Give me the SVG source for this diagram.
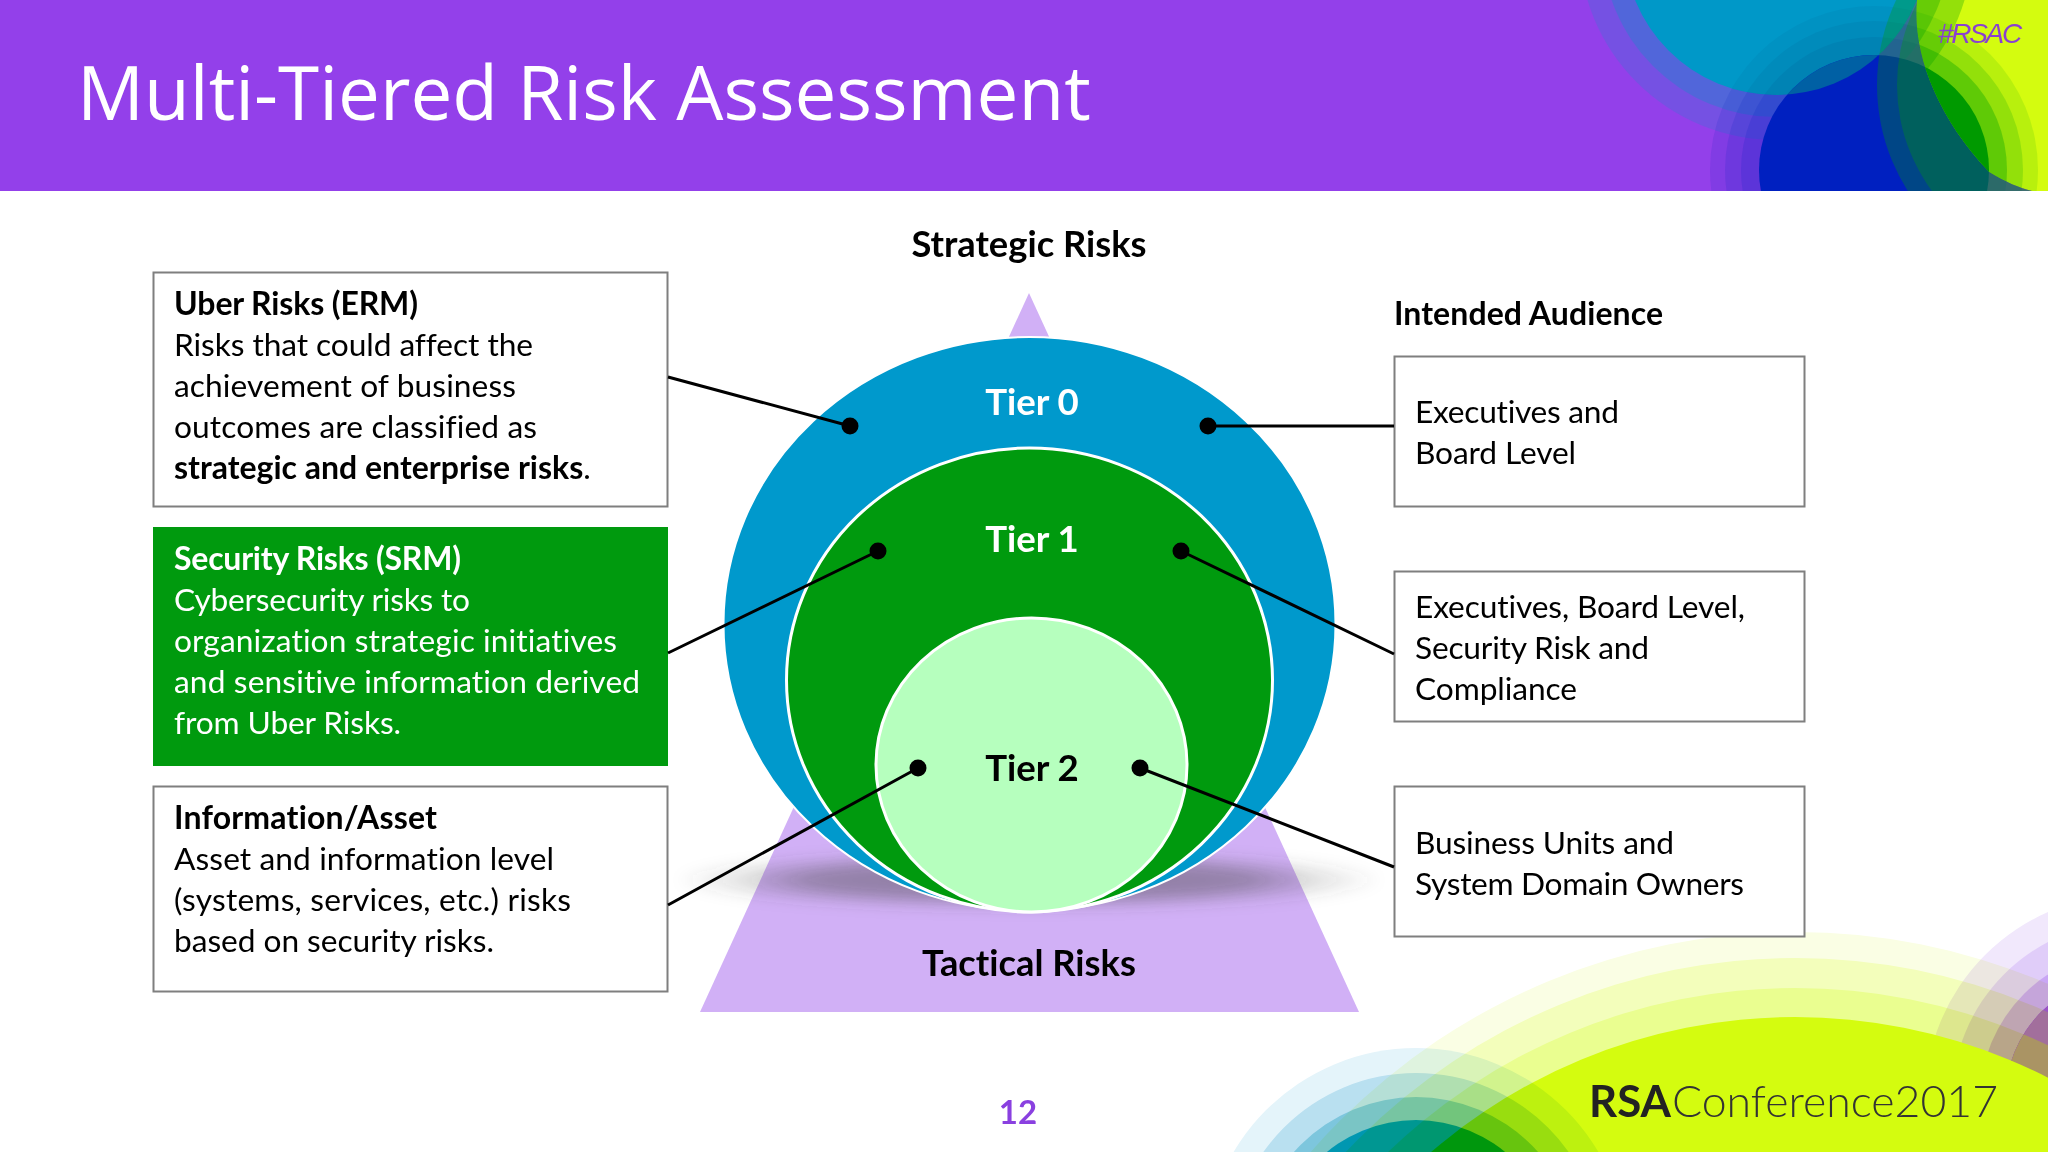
<svg xmlns="http://www.w3.org/2000/svg" width="2048" height="1152" viewBox="0 0 2048 1152">
<style>
text{font-family:"Lato","Liberation Sans",sans-serif;font-size:31.700px;fill:#000;font-variant-ligatures:none}
.b{font-weight:700;font-size:32px}
.w{fill:#fff}
.box{fill:#fff;stroke:#7f7f7f;stroke-width:2}
.m{text-anchor:middle;font-weight:700}
.h{font-size:36.300px}
.t{font-size:36.600px}
.c{stroke:#000;stroke-width:3;fill:none}
.mul{mix-blend-mode:multiply}
</style>
<defs>
<clipPath id="hdr"><rect width="2048" height="191"/></clipPath>
<clipPath id="lime"><path d="M1917 0C1912 50 1935 115 1989 172C2005 182 2020 188 2032 191H2048V0Z"/></clipPath>
<clipPath id="offlime"><path d="M1400 0H1917C1912 50 1935 115 1989 172C2005 182 2020 188 2032 191H1400Z"/></clipPath>
<clipPath id="cyan"><circle cx="1776" cy="-57" r="152"/></clipPath>
<clipPath id="ring1"><circle cx="1795" cy="1575" r="587"/></clipPath>
<clipPath id="ring2"><circle cx="1795" cy="1575" r="617"/></clipPath>
<clipPath id="ring3"><circle cx="1795" cy="1575" r="643"/></clipPath>
<radialGradient id="shade">
<stop offset="0" stop-color="#444" stop-opacity=".45"/>
<stop offset=".62" stop-color="#444" stop-opacity=".42"/>
<stop offset=".8" stop-color="#444" stop-opacity=".17"/>
<stop offset="1" stop-color="#444" stop-opacity="0"/>
</radialGradient>
<filter id="blur" x="-10%" y="-100%" width="120%" height="300%"><feGaussianBlur stdDeviation="7"/></filter>
</defs>

<rect width="2048" height="1152" fill="#fff"/>

<g id="bottom-art">
<g fill="#9340ea">
<circle cx="2130" cy="1100" r="205" fill="#f1e8fc"/>
<circle cx="2130" cy="1100" r="178" fill="#e0cdf9"/>
<circle cx="2130" cy="1100" r="150" fill="#c9a6f4"/>
<circle cx="2130" cy="1100" r="125"/>
</g>
<circle class="mul" cx="1795" cy="1575" r="643" fill="#fafee4"/>
<circle class="mul" cx="1795" cy="1575" r="617" fill="#f8ffd1"/>
<circle class="mul" cx="1795" cy="1575" r="587" fill="#f6ffc5"/>
<circle cx="2130" cy="1100" r="125" fill="#9a55c4" clip-path="url(#ring3)"/>
<circle cx="2130" cy="1100" r="125" fill="#a26f9c" clip-path="url(#ring2)"/>
<circle cx="2130" cy="1100" r="125" fill="#aa9464" clip-path="url(#ring1)"/>
<circle cx="1795" cy="1575" r="558" fill="#d4fc0f"/>
<circle class="mul" cx="1416" cy="1260" r="212" fill="#e4f4fa"/>
<circle class="mul" cx="1416" cy="1260" r="187" fill="#cfeaf5"/>
<circle class="mul" cx="1416" cy="1260" r="163" fill="#ace2eb"/>
<circle class="mul" cx="1416" cy="1260" r="140" fill="#00c4e6"/>
</g>

<g id="header">
<rect width="2048" height="191" fill="#9340ea"/>
<g clip-path="url(#hdr)">
<rect x="1900" width="148" height="191" fill="#d4fc0f" clip-path="url(#lime)"/>
<g clip-path="url(#offlime)">
<circle cx="1776" cy="-57" r="197" fill="#0098c8" opacity=".2"/>
<circle cx="1776" cy="-57" r="174" fill="#0098c8" opacity=".3"/>
<circle cx="1874" cy="170" r="164" fill="#0020c0" opacity=".12"/>
<circle cx="1874" cy="170" r="149" fill="#0020c0" opacity=".14"/>
<circle cx="1874" cy="170" r="133" fill="#0020c0" opacity=".16"/>
<circle cx="1776" cy="-57" r="152" fill="#0098c8"/>
<g clip-path="url(#cyan)">
<circle cx="1874" cy="170" r="164" fill="#004a80" opacity=".08"/>
<circle cx="1874" cy="170" r="149" fill="#004a80" opacity=".1"/>
<circle cx="1874" cy="170" r="133" fill="#004a80" opacity=".12"/>
</g>
<circle cx="1874" cy="170" r="115" fill="#0020c0"/>
<circle cx="1874" cy="170" r="115" fill="#0060a4" clip-path="url(#cyan)"/>
<circle cx="2075" cy="85" r="198" fill="#00a000" opacity=".3"/>
<circle cx="2075" cy="85" r="178" fill="#00a000" opacity=".3"/>
</g>
<g clip-path="url(#lime)">
<circle cx="1776" cy="-57" r="197" fill="#00a000" opacity=".3"/>
<circle cx="1776" cy="-57" r="174" fill="#00a000" opacity=".3"/>
<circle cx="1874" cy="170" r="164" fill="#00a000" opacity=".13"/>
<circle cx="1874" cy="170" r="149" fill="#00a000" opacity=".2"/>
<circle cx="1874" cy="170" r="133" fill="#00a000" opacity=".35"/>
<circle cx="1874" cy="170" r="115" fill="#009a00"/>
</g>
</g>
<text x="77" y="120" class="w" style="font-family:'Open Sans','Noto Sans',sans-serif;font-size:74.600px">Multi-Tiered Risk Assessment</text>
<text x="1938" y="43" style="font-family:'Liberation Sans',sans-serif;font-size:28px;font-style:italic;letter-spacing:-2.300px;fill:#8a40d0">#RSAC</text>
</g>

<g id="pyramid">
<polygon points="1029,293 1359,1012 700,1012" fill="#d1b0f6"/>
<ellipse cx="1029" cy="880" rx="355" ry="30" fill="url(#shade)" filter="url(#blur)"/>
</g>

<g id="tier-0"><ellipse cx="1029.500" cy="624" rx="306" ry="287" fill="#0099cc" stroke="#fff" stroke-width="2"/><text x="1032" y="415" class="m t w">Tier 0</text></g>
<g id="tier-1"><ellipse cx="1029.500" cy="680" rx="243" ry="232" fill="#009a0e" stroke="#fff" stroke-width="3"/><text x="1032" y="552" class="m t w">Tier 1</text></g>
<g id="tier-2"><ellipse cx="1031.500" cy="765" rx="155.500" ry="147" fill="#b6ffbe" stroke="#fff" stroke-width="3"/><text x="1032" y="781" class="m t">Tier 2</text></g>

<g id="labels">
<text x="1029" y="257" class="m h">Strategic Risks</text>
<text x="1029" y="976" class="m h">Tactical Risks</text>
<text x="1394" y="325" class="b" textLength="269">Intended Audience</text>
<text x="1018" y="1124" class="m" style="font-size:33px;fill:#8a40e0">12</text>
</g>

<g id="node-uber">
<rect x="153.500" y="272.500" width="514" height="234" class="box"/>
<text x="174" y="315" class="b" textLength="244">Uber Risks (ERM)</text>
<text x="174" y="356" textLength="359">Risks that could affect the</text>
<text x="174" y="397" textLength="342">achievement of business</text>
<text x="174" y="438" textLength="363">outcomes are classified as</text>
<text x="174" y="479"><tspan class="b">strategic and enterprise risks</tspan>.</text>
</g>
<g id="node-security">
<rect x="153" y="527" width="515" height="239" fill="#009a0e"/>
<text x="174" y="570" class="b w" textLength="287">Security Risks (SRM)</text>
<text x="174" y="611" class="w" textLength="296">Cybersecurity risks to</text>
<text x="174" y="652" class="w" textLength="443">organization strategic initiatives</text>
<text x="174" y="693" class="w" textLength="466">and sensitive information derived</text>
<text x="174" y="734" class="w" textLength="227">from Uber Risks.</text>
</g>
<g id="node-info">
<rect x="153.500" y="786.500" width="514" height="205" class="box"/>
<text x="174" y="829" class="b" textLength="263">Information/Asset</text>
<text x="174" y="870" textLength="380">Asset and information level</text>
<text x="174" y="911" textLength="397">(systems, services, etc.) risks</text>
<text x="174" y="952" textLength="320">based on security risks.</text>
</g>
<g id="node-exec">
<rect x="1394.500" y="356.500" width="410" height="150" class="box"/>
<text x="1415" y="423" textLength="204">Executives and</text>
<text x="1415" y="464" textLength="161">Board Level</text>
</g>
<g id="node-exec-sec">
<rect x="1394.500" y="571.500" width="410" height="150" class="box"/>
<text x="1415" y="618" textLength="330">Executives, Board Level,</text>
<text x="1415" y="659" textLength="234">Security Risk and</text>
<text x="1415" y="700" textLength="162">Compliance</text>
</g>
<g id="node-bu">
<rect x="1394.500" y="786.500" width="410" height="150" class="box"/>
<text x="1415" y="854" textLength="259">Business Units and</text>
<text x="1415" y="895" textLength="329">System Domain Owners</text>
</g>

<g id="connectors">
<path class="c" d="M668 377L850 426M1394 426H1208M668 653L878 551M1394 654L1181 551M668 905L918 768M1394 867L1140 768"/>
<g fill="#000">
<circle cx="850" cy="426" r="8.500"/><circle cx="1208" cy="426" r="8.500"/>
<circle cx="878" cy="551" r="8.500"/><circle cx="1181" cy="551" r="8.500"/>
<circle cx="918" cy="768" r="8.500"/><circle cx="1140" cy="768" r="8.500"/>
</g>
</g>

<g id="logo">
<text x="1589" y="1117" textLength="82" lengthAdjust="spacingAndGlyphs" style="font-size:43px;font-weight:700;fill:#222">RSA</text>
<text x="1672" y="1117" textLength="326" lengthAdjust="spacingAndGlyphs" style="font-size:44px;font-weight:300;fill:#333">Conference2017</text>
</g>
</svg>
